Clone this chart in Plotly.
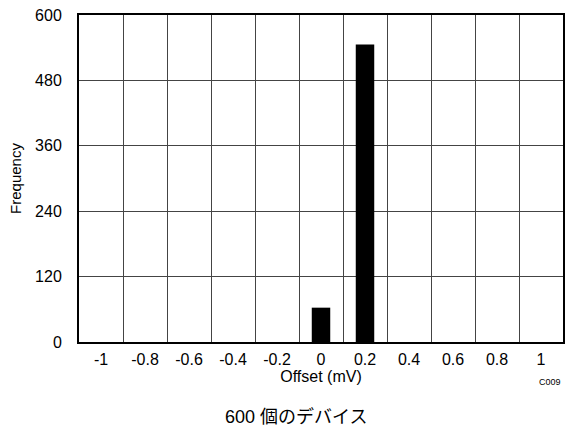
import plotly.graph_objects as go

categories = ["-1", "-0.8", "-0.6", "-0.4", "-0.2", "0", "0.2", "0.4", "0.6", "0.8", "1"]
frequency = [0, 0, 0, 0, 0, 63, 546, 0, 0, 0, 0]
y_ticks = [0, 120, 240, 360, 480, 600]

fig = go.Figure()
fig.add_trace(go.Bar(x=categories, y=frequency, marker=dict(color="black", line=dict(width=0))))

font = "Liberation Sans, Arial, sans-serif"
fig.update_layout(
    width=568, height=443,
    margin=dict(l=79, r=5, t=15, b=101),
    paper_bgcolor="white", plot_bgcolor="white",
    bargap=0.58,
    showlegend=False,
    font=dict(family=font, size=16, color="black"),
)
fig.update_xaxes(
    type="category", tickson="boundaries", ticks="", ticklen=0, automargin=False,
    showgrid=True, gridcolor="#444", gridwidth=1,
    showline=True, linecolor="black", linewidth=2, mirror=True,
    tickfont=dict(size=16), ticklabelstandoff=2,
    title=dict(text="Offset (mV)", font=dict(size=16), standoff=4),
)
fig.update_yaxes(
    range=[0, 600], tickvals=y_ticks, ticks="", automargin=False,
    showgrid=True, gridcolor="#444", gridwidth=1, zeroline=False,
    showline=True, linecolor="black", linewidth=2, mirror=True,
    tickfont=dict(size=16), ticklabelstandoff=12,
    title=dict(text="Frequency", font=dict(size=15), standoff=10),
)
fig.add_annotation(text="C009", x=1.0, y=-40/327, xref="paper", yref="paper",
                   xanchor="right", yanchor="middle",
                   showarrow=False, font=dict(size=9))
fig.add_annotation(text="600 個のデバイス", x=0.45, y=-75/327, xref="paper", yref="paper",
                   xanchor="center", yanchor="middle", showarrow=False,
                   font=dict(size=18, family="Liberation Sans, Noto Sans CJK JP"))
fig.write_html("out.html", config={"displayModeBar": False},
               post_script="document.body.style.margin='0';document.body.style.overflow='hidden';")
